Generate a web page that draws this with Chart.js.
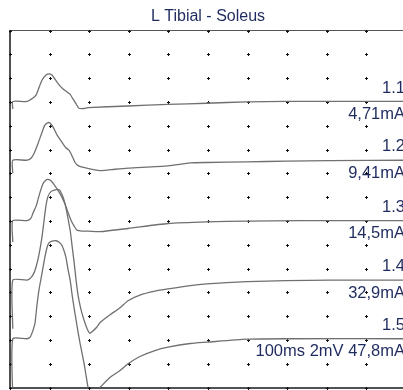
<!DOCTYPE html>
<html>
<head>
<meta charset="utf-8">
<script src="https://cdn.jsdelivr.net/npm/chart.js@4/dist/chart.umd.min.js"></script>
<style>
html,body{margin:0;padding:0;overflow:hidden;background:#fff;}
canvas{display:block;}
</style>
</head>
<body>
<canvas id="c" width="412" height="390"></canvas>
<script>
// ---- data (time in ms, amplitude in mV relative to each trace baseline) ----
const traceIds = ['1.1', '1.2', '1.3', '1.4', '1.5'];
const stimLabels = ['4,71mA', '9,41mA', '14,5mA', '32,9mA', '100ms 2mV 47,8mA'];
const baselineMv = [-5.95, -10.89, -15.97, -20.97, -25.9];

const time1 = [0.7, 0.7, 4.3, 5.8, 6.6, 7.1, 8.1, 9.1, 9.8, 10.6, 11.4, 12.4, 13.4, 14.4, 15.2, 15.9, 16.7, 17.4, 18.7, 19.7, 29.8, 39.9, 49.7, 59.8, 69.7, 101];
const amp1  = [-0.63, 0, 0, 0.29, 0.55, 0.97, 1.81, 2.23, 2.32, 2.23, 1.85, 1.39, 1.05, 0.80, 0.59, 0.21, -0.21, -0.57, -0.59, -0.52, -0.38, -0.24, -0.15, -0.03, 0, 0];

const time2 = [0.7, 0.7, 4.3, 5.3, 6.1, 7.1, 8.1, 8.8, 9.6, 10.1, 10.9, 11.9, 13.1, 14.1, 14.9, 15.7, 16.4, 17.2, 18.9, 22.7, 26.5, 29.8, 39.9, 45.5, 49.7, 59.8, 69.7, 80.8, 101];
const amp2  = [-1.10, 0, 0, 0.17, 0.59, 1.43, 2.36, 2.95, 3.16, 3.12, 2.78, 2.11, 1.52, 1.05, 0.84, 0.34, -0.17, -0.46, -0.63, -0.88, -0.76, -0.67, -0.48, -0.23, -0.19, -0.14, -0.08, -0.03, 0];

const time3 = [0.7, 0.7, 4.3, 5.3, 5.8, 6.6, 7.1, 7.6, 8.3, 9.1, 9.6, 10.4, 11.4, 12.4, 13.1, 13.9, 14.6, 15.4, 16.2, 16.9, 18.2, 19.7, 22.7, 29.8, 39.9, 49.7, 59.8, 73.2, 101];
const amp3  = [-1.79, 0, 0, 0.21, 0.63, 1.22, 1.81, 2.40, 3.08, 3.41, 3.46, 3.33, 2.91, 2.40, 1.98, 1.39, 0.72, 0.04, -0.46, -0.80, -0.88, -0.88, -0.93, -0.66, -0.24, -0.10, -0.04, 0, 0];

const time4 = [0.7, 0.7, 4.3, 5.3, 6.1, 6.6, 7.1, 7.6, 8.1, 8.6, 9.1, 9.6, 10.4, 11.4, 12.1, 12.6, 13.1, 13.6, 14.1, 14.6, 15.2, 15.7, 16.2, 16.7, 17.2, 17.7, 18.2, 19.0, 19.7, 20.2, 21.0, 22.0, 22.7, 25.3, 27.8, 29.8, 32.8, 36.6, 39.9, 45.5, 49.7, 59.8, 69.7, 80.8, 101];
const amp4  = [-4.09, 0, 0, 0.21, 0.63, 1.14, 1.81, 2.65, 3.67, 5.01, 6.28, 7.04, 7.46, 7.59, 7.63, 7.54, 7.21, 6.78, 6.11, 5.27, 4.17, 2.82, 1.47, -0.04, -1.31, -2.15, -2.82, -3.67, -4.26, -4.47, -4.26, -3.92, -3.58, -2.91, -2.32, -1.73, -1.26, -0.93, -0.74, -0.46, -0.32, -0.13, -0.04, 0, 0];

const time5 = [0.7, 0.7, 4.3, 5.1, 5.8, 6.3, 6.8, 7.3, 7.8, 8.3, 8.8, 9.3, 9.8, 10.6, 11.6, 12.4, 13.1, 13.6, 14.1, 14.6, 15.2, 15.7, 16.2, 16.7, 17.2, 17.7, 18.2, 18.7, 19.2, 19.7, 20.2, 21.2, 22.7, 25.3, 27.8, 29.8, 32.8, 36.6, 39.9, 45.5, 49.7, 59.8, 69.7, 101];
const amp5  = [-5.0, 0, 0, 0.13, 0.70, 1.29, 2.81, 4.07, 5.00, 5.92, 6.85, 7.61, 8.03, 8.20, 8.24, 8.12, 7.86, 7.44, 6.88, 5.92, 4.91, 3.65, 2.55, 1.54, 0.53, -0.40, -1.24, -2.08, -3.09, -4.10, -4.78, -4.61, -4.10, -3.24, -2.67, -2.11, -1.49, -0.99, -0.71, -0.40, -0.29, -0.04, 0, 0];

const times = [time1, time2, time3, time4, time5];
const amps = [amp1, amp2, amp3, amp4, amp5];

// ---- build datasets ----
const datasets = traceIds.map((id, i) => ({
  label: id,
  data: times[i].map((t, k) => ({x: t, y: baselineMv[i] + amps[i][k]})),
  borderColor: '#707070',
  borderWidth: 1.3,
  pointRadius: 0,
  tension: 0.2,
  fill: false
}));

// grid dots at every tick intersection of the library's own scales
const dotGridPlugin = {
  id: 'dotGrid',
  beforeDatasetsDraw(chart) {
    const {ctx, scales} = chart;
    ctx.save();
    ctx.fillStyle = '#111111';
    scales.x.ticks.forEach(tx => {
      const px = Math.round(scales.x.getPixelForValue(tx.value));
      scales.y.ticks.forEach(ty => {
        const py = Math.round(scales.y.getPixelForValue(ty.value));
        ctx.fillRect(px - 1, py, 3, 1);
        ctx.fillRect(px, py - 1, 1, 3);
      });
    });
    ctx.restore();
  }
};

const labelPlugin = {
  id: 'traceLabels',
  afterDatasetsDraw(chart) {
    const {ctx, chartArea, scales} = chart;
    ctx.save();
    ctx.fillStyle = '#1f2b5e';
    ctx.font = '16.5px "Liberation Sans", Arial, sans-serif';
    ctx.textAlign = 'right';
    ctx.textBaseline = 'middle';
    const xr = chartArea.right - 1;
    traceIds.forEach((id, i) => {
      const yb = scales.y.getPixelForValue(baselineMv[i]);
      ctx.fillText(id, xr, yb - 13.5);
      ctx.fillText(stimLabels[i], xr, yb + 13);
    });
    ctx.restore();
  }
};

new Chart(document.getElementById('c'), {
  type: 'line',
  data: {datasets},
  options: {
    responsive: false,
    animation: false,
    devicePixelRatio: 1,
    layout: {padding: {left: 10, right: 6, top: 0, bottom: 2.5}},
    plugins: {
      legend: {display: false},
      tooltip: {enabled: false},
      title: {
        display: true,
        text: 'L Tibial - Soleus',
        color: '#1f2b5e',
        font: {family: '"Liberation Sans", Arial, sans-serif', size: 16, weight: 'normal', lineHeight: 1.2},
        padding: {top: 7, bottom: 4.5}
      }
    },
    scales: {
      x: {
        type: 'linear', min: 0, max: 100,
        ticks: {display: false, stepSize: 10},
        grid: {display: false, drawTicks: false},
        border: {display: true, color: '#505050', width: 2}
      },
      xTop: {
        type: 'linear', position: 'top', min: 0, max: 100,
        ticks: {display: false},
        grid: {display: false, drawTicks: false},
        border: {display: true, color: '#555555', width: 1}
      },
      y: {
        type: 'linear', min: -30, max: 0,
        ticks: {display: false, stepSize: 2},
        grid: {display: false, drawTicks: false},
        border: {display: true, color: '#505050', width: 2}
      }
    }
  },
  plugins: [dotGridPlugin, labelPlugin]
});
</script>
</body>
</html>
